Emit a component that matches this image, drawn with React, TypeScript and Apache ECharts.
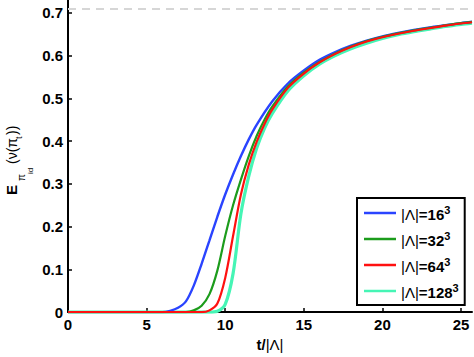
import React, { useEffect, useRef } from 'react';
import * as echarts from 'echarts';

const FONT = "'Liberation Sans', Arial, Helvetica, sans-serif";

// Tick labels
const xTicks = [0, 5, 10, 15, 20, 25];
const yTicks = [0, 0.1, 0.2, 0.3, 0.4, 0.5, 0.6, 0.7];
const limitValue = 0.7071;

// Series names
const seriesNames = ['|Λ|=16³', '|Λ|=32³', '|Λ|=64³', '|Λ|=128³'];
const seriesColors = ['#2a44ff', '#1c9c1c', '#ff1010', '#45f5b5'];

// |Λ| = 16^3
const tBlue = [0, 6, 6.5, 7, 7.5, 8, 8.5, 9, 9.5, 10, 10.5, 11, 11.5, 12, 13, 14, 15, 16, 17, 18, 19, 20, 21, 22, 23, 24, 25, 25.7];
const yBlue = [0, 0, 0.003, 0.01, 0.025, 0.062, 0.113, 0.168, 0.223, 0.275, 0.322, 0.365, 0.404, 0.438, 0.493, 0.535, 0.565, 0.59, 0.608, 0.623, 0.635, 0.645, 0.653, 0.66, 0.666, 0.671, 0.676, 0.679];

// |Λ| = 32^3
const tGreen = [0, 7.5, 8, 8.5, 9, 9.5, 10, 10.5, 11, 11.5, 12, 12.5, 13, 14, 15, 16, 17, 18, 19, 20, 21, 22, 23, 24, 25, 25.7];
const yGreen = [0, 0, 0.004, 0.015, 0.042, 0.097, 0.178, 0.25, 0.31, 0.365, 0.412, 0.45, 0.481, 0.528, 0.56, 0.585, 0.605, 0.621, 0.634, 0.644, 0.652, 0.659, 0.665, 0.671, 0.676, 0.679];

// |Λ| = 64^3
const tRed = [0, 8.5, 9, 9.5, 10, 10.5, 11, 11.5, 12, 12.5, 13, 14, 15, 16, 17, 18, 19, 20, 21, 22, 23, 24, 25, 25.7];
const yRed = [0, 0, 0.004, 0.02, 0.08, 0.178, 0.275, 0.345, 0.398, 0.44, 0.474, 0.525, 0.558, 0.584, 0.604, 0.62, 0.633, 0.643, 0.651, 0.658, 0.664, 0.67, 0.675, 0.678];

// |Λ| = 128^3
const tCyan = [0, 9, 9.5, 10, 10.5, 11, 11.5, 12, 12.5, 13, 14, 15, 16, 17, 18, 19, 20, 21, 22, 23, 24, 25, 25.7];
const yCyan = [0, 0, 0.002, 0.018, 0.09, 0.23, 0.318, 0.383, 0.43, 0.465, 0.518, 0.553, 0.58, 0.6, 0.616, 0.629, 0.64, 0.649, 0.656, 0.662, 0.668, 0.673, 0.676];

const zip = (t: number[], y: number[]) => t.map((v, i) => [v, y[i]]);

export default function App() {
  const ref = useRef<HTMLDivElement>(null);
  useEffect(() => {
    const chart = echarts.init(ref.current!, null, { renderer: 'svg' });
    const datasets = [zip(tBlue, yBlue), zip(tGreen, yGreen), zip(tRed, yRed), zip(tCyan, yCyan)];
    const zs = [3, 4, 5, 2];
    const widths = [2.4, 2.2, 2.2, 3.2];
    const series: any[] = datasets.map((d, i) => ({
      type: 'line',
      name: seriesNames[i],
      data: d,
      showSymbol: false,
      symbol: 'none',
      smooth: 0.3,
      z: zs[i],
      lineStyle: { color: seriesColors[i], width: widths[i] },
      itemStyle: { color: seriesColors[i] },
    }));
    series[0].markLine = {
      silent: true,
      symbol: 'none',
      label: { show: false },
      lineStyle: { color: '#d6d6d6', type: [8, 6], width: 2 },
      data: [{ yAxis: limitValue }],
    };
    const option: any = {
      animation: false,
      backgroundColor: '#fff',
      grid: { left: 68, right: 2, top: 0, bottom: 43.4, containLabel: false },
      xAxis: {
        type: 'value',
        min: 0,
        max: 25.7,
        interval: 5,
        name: '{b|t/}{n||Λ|}',
        nameLocation: 'middle',
        nameGap: 22,
        nameTextStyle: {
          rich: {
            b: { fontFamily: FONT, fontSize: 15, fontWeight: 'bold', color: '#000' },
            n: { fontFamily: FONT, fontSize: 15, color: '#000' },
          },
        },
        splitLine: { show: false },
        axisLine: { show: true, onZero: false, lineStyle: { color: '#000', width: 2 } },
        axisTick: { show: true, inside: true, length: 4, customValues: xTicks, lineStyle: { color: '#000', width: 1.5 } },
        axisLabel: {
          customValues: xTicks,
          margin: 5,
          fontFamily: FONT,
          fontSize: 15,
          fontWeight: 'bold',
          color: '#000',
          formatter: (v: number) => String(v),
        },
      },
      yAxis: {
        type: 'value',
        min: 0,
        max: 0.73,
        interval: 0.1,
        splitLine: { show: false },
        axisLine: { show: true, onZero: false, lineStyle: { color: '#000', width: 2 } },
        axisTick: { show: true, inside: true, length: 4, customValues: yTicks, lineStyle: { color: '#000', width: 1.5 } },
        axisLabel: {
          customValues: yTicks,
          margin: 5,
          fontFamily: FONT,
          fontSize: 15,
          fontWeight: 'bold',
          color: '#000',
          formatter: (v: number) => (v === 0 ? '0' : v.toFixed(1)),
        },
      },
      legend: {
        show: true,
        orient: 'vertical',
        left: 357,
        top: 198,
        data: seriesNames.map((n, i) => ({ name: n, icon: 'path://M0 0 H32 V2.5 H0 Z', itemStyle: { color: seriesColors[i] } })),
        backgroundColor: '#fff',
        borderColor: '#000',
        borderWidth: 2,
        borderRadius: 0,
        padding: [6, 6, 5, 7],
        itemGap: 8,
        itemWidth: 32,
        itemHeight: 2.5,
        formatter: (name: string) => {
          const m = name.match(/=(\d+)³/);
          const num = m ? m[1] : '';
          return `{n||Λ|}{b|=${num}}{s|3}`;
        },
        textStyle: {
          color: '#000',
          rich: {
            n: { fontFamily: FONT, fontSize: 15, color: '#000', lineHeight: 18, verticalAlign: 'bottom' },
            b: { fontFamily: FONT, fontSize: 15, fontWeight: 'bold', color: '#000', lineHeight: 18, verticalAlign: 'bottom' },
            s: { fontFamily: FONT, fontSize: 11, fontWeight: 'bold', color: '#000', lineHeight: 18, verticalAlign: 'top', padding: [0, 0, 7, 0] },
          },
        },
      },
      graphic: [
        {
          type: 'group',
          x: 11.5,
          y: 195,
          rotation: Math.PI / 2,
          children: [
            { type: 'text', x: 0, y: 0, style: { text: 'E', font: `bold 15px ${FONT}`, fill: '#000', align: 'left', verticalAlign: 'middle' } },
            { type: 'text', x: 14, y: 10, style: { text: 'π', font: `10px ${FONT}`, fill: '#000', align: 'left', verticalAlign: 'middle' } },
            { type: 'text', x: 21, y: 19, style: { text: 'id', font: `8px ${FONT}`, fill: '#000', align: 'left', verticalAlign: 'middle' } },
            { type: 'text', x: 31, y: 0, style: { text: '(ν(π', font: `14px ${FONT}`, fill: '#000', align: 'left', verticalAlign: 'middle' } },
            { type: 'text', x: 56, y: 7, style: { text: 't', font: `9px ${FONT}`, fill: '#000', align: 'left', verticalAlign: 'middle' } },
            { type: 'text', x: 60, y: 0, style: { text: '))', font: `14px ${FONT}`, fill: '#000', align: 'left', verticalAlign: 'middle' } },
          ],
        },
      ],
      series,
    };
    chart.setOption(option);
    return () => chart.dispose();
  }, []);
  return <div ref={ref} style={{ position: 'fixed', left: 0, top: 0, width: 474, height: 357 }} />;
}
